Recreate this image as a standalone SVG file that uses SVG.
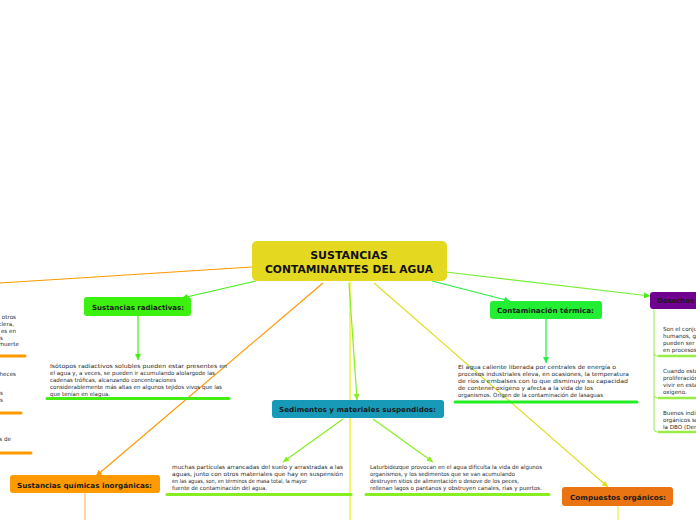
<svg xmlns="http://www.w3.org/2000/svg" width="696" height="520" viewBox="0 0 696 520">
<style>
.node{stroke:none}
.lbl{font-family:"DejaVu Sans","Liberation Sans",sans-serif;font-weight:bold;font-size:7px;fill:#1a1a1a}
.big{font-family:"DejaVu Sans","Liberation Sans",sans-serif;font-weight:bold;font-size:11px;fill:#111}
.body{font-family:"DejaVu Sans","Liberation Sans",sans-serif;font-size:5.6px;fill:#2a2a2a}
.c{fill:none;stroke-width:1.2}
.ul{fill:none;stroke-width:3;stroke-linecap:round}
</style>
<defs>
<marker id="aG" viewBox="0 0 6 6" refX="6" refY="3" markerWidth="6" markerHeight="6" markerUnits="userSpaceOnUse" orient="auto"><path d="M0,0L6,3L0,6z" fill="#44ee11"/></marker>
<marker id="aT" viewBox="0 0 6 6" refX="6" refY="3" markerWidth="6" markerHeight="6" markerUnits="userSpaceOnUse" orient="auto"><path d="M0,0L6,3L0,6z" fill="#22ee44"/></marker>
<marker id="aS" viewBox="0 0 6 6" refX="6" refY="3" markerWidth="6" markerHeight="6" markerUnits="userSpaceOnUse" orient="auto"><path d="M0,0L6,3L0,6z" fill="#88ee22"/></marker>
<marker id="aY" viewBox="0 0 6 6" refX="6" refY="3" markerWidth="6" markerHeight="6" markerUnits="userSpaceOnUse" orient="auto"><path d="M0,0L6,3L0,6z" fill="#dde022"/></marker>
<marker id="aO" viewBox="0 0 6 6" refX="6" refY="3" markerWidth="6" markerHeight="6" markerUnits="userSpaceOnUse" orient="auto"><path d="M0,0L6,3L0,6z" fill="#ff9900"/></marker>
</defs>
<rect width="696" height="520" fill="#ffffff"/>

<g id="connectors">
<line class="c" x1="252" y1="267" x2="0" y2="283" stroke="#ff9900"/>
<line class="c" x1="256" y1="281" x2="182" y2="298" stroke="#44ee11" marker-end="url(#aG)"/>
<line class="c" x1="323" y1="283" x2="96" y2="476" stroke="#ff9900" marker-end="url(#aO)"/>
<line class="c" x1="350" y1="281" x2="350" y2="520" stroke="#eeee00"/>
<line class="c" x1="349" y1="283" x2="357" y2="400" stroke="#88ee22" marker-end="url(#aS)"/>
<line class="c" x1="374" y1="283" x2="608" y2="487" stroke="#dde022" marker-end="url(#aY)"/>
<line class="c" x1="432" y1="281" x2="510" y2="301" stroke="#22ee44" marker-end="url(#aT)"/>
<line class="c" x1="446" y1="272" x2="650" y2="296" stroke="#77ee33" marker-end="url(#aG)"/>
<line class="c" x1="138" y1="316" x2="138" y2="360" stroke="#44ee11" marker-end="url(#aG)"/>
<line class="c" x1="546" y1="319" x2="546" y2="363" stroke="#22ee44" marker-end="url(#aT)"/>
<line class="c" x1="343" y1="419" x2="283" y2="462" stroke="#88ee22" marker-end="url(#aS)"/>
<line class="c" x1="373" y1="419" x2="433" y2="462" stroke="#88ee22" marker-end="url(#aS)"/>
<line class="c" x1="85" y1="493" x2="85" y2="520" stroke="#ffbb55"/>
<line class="c" x1="618" y1="506" x2="618" y2="520" stroke="#e6ee33"/>
<path class="c" d="M654,309V352Q654,356 658,356H700M654,352V394Q654,398 658,398H700M654,394V428Q654,432 658,432H700" stroke="#aaee66"/>
</g>

<g id="central">
<rect class="node" x="252" y="241" width="195" height="40" rx="5" fill="#e5d820"/>
<text class="big" x="349" y="259" text-anchor="middle">SUSTANCIAS</text>
<text class="big" x="349" y="273" text-anchor="middle" textLength="168" lengthAdjust="spacingAndGlyphs">CONTAMINANTES DEL AGUA</text>
</g>

<g id="left-fragments">
<text class="body" x="16" y="319" text-anchor="end">otros</text>
<text class="body" x="14" y="326" text-anchor="end">clera,</text>
<text class="body" x="16" y="333" text-anchor="end">es en</text>
<text class="body" x="3" y="340" text-anchor="end">s</text>
<text class="body" x="19" y="346" text-anchor="end">muerte</text>
<line class="ul" x1="-5" y1="356" x2="25" y2="356" stroke="#ff9900"/>
<text class="body" x="16" y="376" text-anchor="end">heces</text>
<text class="body" x="3" y="395" text-anchor="end">s</text>
<text class="body" x="3" y="402" text-anchor="end">s</text>
<line class="ul" x1="-5" y1="413" x2="21" y2="413" stroke="#ff9900"/>
<text class="body" x="11" y="441" text-anchor="end">s de</text>
<line class="ul" x1="-5" y1="453" x2="31" y2="453" stroke="#ff9900"/>
</g>

<g id="radiactivas">
<rect class="node" x="84" y="297" width="107" height="19" rx="3" fill="#3cf00f"/>
<text class="lbl" x="92" y="310" textLength="92" lengthAdjust="spacingAndGlyphs">Sustancias  radiactivas:</text>
<g class="body">
<text x="50" y="368" textLength="177" lengthAdjust="spacingAndGlyphs">Isótopos  radiactivos  solubles  pueden  estar  presentes  en</text>
<text x="50" y="375" textLength="165" lengthAdjust="spacingAndGlyphs">el agua y, a veces, se pueden ir acumulando alolargode las</text>
<text x="50" y="382" textLength="126" lengthAdjust="spacingAndGlyphs">cadenas tróficas, alcanzando concentraciones</text>
<text x="50" y="389" textLength="172" lengthAdjust="spacingAndGlyphs">considerablemente más altas en algunos tejidos vivos que las</text>
<text x="50" y="396" textLength="60" lengthAdjust="spacingAndGlyphs">que tenían en elagua.</text>
</g>
<line class="ul" x1="47" y1="398.5" x2="229" y2="398.5" stroke="#44ee11"/>
</g>

<g id="termica">
<rect class="node" x="490" y="301" width="112" height="18" rx="3" fill="#22ee33"/>
<text class="lbl" x="497" y="313" textLength="97" lengthAdjust="spacingAndGlyphs">Contaminación   térmica:</text>
<g class="body">
<text x="458" y="369" textLength="158" lengthAdjust="spacingAndGlyphs">El  agua  caliente  liberada  por  centrales  de  energía  o</text>
<text x="458" y="376" textLength="171" lengthAdjust="spacingAndGlyphs">procesos  industriales  eleva,  en  ocasiones,  la  temperatura</text>
<text x="458" y="383" textLength="170" lengthAdjust="spacingAndGlyphs">de  ríos  o  embalses  con  lo  que disminuye  su  capacidad</text>
<text x="458" y="390" textLength="135" lengthAdjust="spacingAndGlyphs">de  contener  oxígeno  y  afecta  a  la  vida  de  los</text>
<text x="458" y="397" textLength="145" lengthAdjust="spacingAndGlyphs">organismos. Origen de la contaminación de lasaguas</text>
</g>
<line class="ul" x1="455" y1="402" x2="637" y2="402" stroke="#22ee22"/>
</g>

<g id="sedimentos">
<rect class="node" x="272" y="400" width="172" height="18" rx="3" fill="#1799b8"/>
<text class="lbl" x="279" y="412" textLength="157" lengthAdjust="spacingAndGlyphs">Sedimentos  y  materiales  suspendidos:</text>
<g class="body">
<text x="172" y="469" textLength="171" lengthAdjust="spacingAndGlyphs">muchas  partículas  arrancadas  del suelo y arrastradas  a  las</text>
<text x="172" y="476" textLength="171" lengthAdjust="spacingAndGlyphs">aguas,  junto  con  otros  materiales  que  hay  en  suspensión</text>
<text x="172" y="483" textLength="135" lengthAdjust="spacingAndGlyphs">en  las  aguas, son, en términos de masa total, la mayor</text>
<text x="172" y="490" textLength="95" lengthAdjust="spacingAndGlyphs">fuente de contaminación del agua.</text>
<text x="370" y="469" textLength="172" lengthAdjust="spacingAndGlyphs">Laturbidezque provocan en el agua dificulta la vida de algunos</text>
<text x="370" y="476" textLength="145" lengthAdjust="spacingAndGlyphs">organismos, y los sedimentos que se van acumulando</text>
<text x="370" y="483" textLength="149" lengthAdjust="spacingAndGlyphs">destruyen sitios de alimentación o desove de los peces,</text>
<text x="370" y="490" textLength="172" lengthAdjust="spacingAndGlyphs">rellenan lagos o pantanos y obstruyen canales, rías y puertos.</text>
</g>
<line class="ul" x1="167" y1="494.5" x2="351" y2="494.5" stroke="#88ee22"/>
<line class="ul" x1="366" y1="494.5" x2="549" y2="494.5" stroke="#88ee22"/>
</g>

<g id="inorganicas">
<rect class="node" x="10" y="475" width="150" height="18" rx="3" fill="#ff9900"/>
<text class="lbl" x="17" y="488" textLength="135" lengthAdjust="spacingAndGlyphs">Sustancias  químicas  inorgánicas:</text>
</g>

<g id="organicos">
<rect class="node" x="562" y="487" width="111" height="19" rx="3" fill="#ea7312"/>
<text class="lbl" x="570" y="500" textLength="96" lengthAdjust="spacingAndGlyphs">Compuestos   orgánicos:</text>
</g>

<g id="desechos">
<rect class="node" x="650" y="292" width="60" height="17" rx="3" fill="#700090"/>
<text class="lbl" x="657" y="303" textLength="37" lengthAdjust="spacingAndGlyphs">Desechos</text>
<g class="body">
<text x="663" y="331">Son el conju</text>
<text x="663" y="338">humanos, g</text>
<text x="663" y="345">pueden ser</text>
<text x="663" y="352">en procesos</text>
<text x="663" y="373">Cuando esto</text>
<text x="663" y="380">proliferación</text>
<text x="663" y="387">vivir en esta</text>
<text x="663" y="394">oxígeno.</text>
<text x="663" y="415">Buenos indi</text>
<text x="663" y="422">orgánicos so</text>
<text x="663" y="429">la DBO (Der</text>
</g>
<path d="M658,356H700M658,398H700M658,432H700" fill="none" stroke="#99ee44" stroke-width="2.5"/>
</g>
</svg>
